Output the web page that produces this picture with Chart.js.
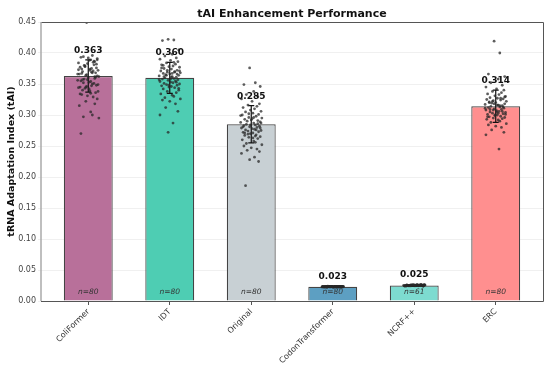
<!DOCTYPE html>
<html>
<head>
<meta charset="utf-8">
<script src="https://cdn.jsdelivr.net/npm/chart.js@4.4.0/dist/chart.umd.min.js"></script>
<style>
  html, body { margin: 0; padding: 0; background: #fff; }
  #wrap { width: 550px; height: 367px; }
</style>
</head>
<body>
<div id="wrap"><canvas id="chart" width="550" height="367"></canvas></div>
<script>
// categories and summary values
const methods = ['ColiFormer', 'IDT', 'Original', 'CodonTransformer', 'NCRF++', 'ERC'];
const means = [0.363, 0.360, 0.285, 0.023, 0.025, 0.314];
const stdDevs = [0.026, 0.025, 0.030, 0.001, 0.0015, 0.026];
const counts = [80, 80, 80, 80, 61, 80];
const barColors = ['#b8709a', '#4ecdb3', '#c8d0d4', '#5d9fc2', '#7ddbd0', '#ff8f8f'];
const yTicks = [0, 0.05, 0.10, 0.15, 0.20, 0.25, 0.30, 0.35, 0.40, 0.45];

// individual samples
const coliPts = [0.449, 0.396, 0.393, 0.391, 0.389, 0.394, 0.386, 0.384, 0.388, 0.382, 0.379, 0.381, 0.377, 0.375, 0.383, 0.372,
  0.370, 0.374, 0.368, 0.366, 0.371, 0.364, 0.362, 0.367, 0.360, 0.358, 0.363, 0.356, 0.354, 0.359, 0.352, 0.350, 0.355, 0.348,
  0.346, 0.351, 0.344, 0.342, 0.347, 0.340, 0.338, 0.343, 0.336, 0.334, 0.339, 0.331, 0.329, 0.333, 0.326, 0.322, 0.318, 0.315,
  0.305, 0.300, 0.297, 0.295, 0.270, 0.392, 0.387, 0.380, 0.376, 0.373, 0.369, 0.365, 0.361, 0.357, 0.353, 0.349, 0.345, 0.385,
  0.378, 0.372, 0.366, 0.362, 0.357, 0.389, 0.374, 0.368, 0.345, 0.335];
const idtPts = [0.422, 0.421, 0.420, 0.405, 0.398, 0.395, 0.392, 0.390, 0.388, 0.386, 0.384, 0.382, 0.381, 0.379, 0.378, 0.377,
  0.375, 0.374, 0.372, 0.371, 0.370, 0.369, 0.368, 0.367, 0.366, 0.365, 0.364, 0.363, 0.362, 0.361, 0.360, 0.359, 0.358, 0.357,
  0.356, 0.355, 0.354, 0.353, 0.352, 0.351, 0.350, 0.349, 0.348, 0.347, 0.346, 0.345, 0.344, 0.342, 0.340, 0.338, 0.336, 0.334,
  0.332, 0.330, 0.328, 0.326, 0.324, 0.322, 0.318, 0.312, 0.306, 0.300, 0.287, 0.272, 0.366, 0.362, 0.358, 0.371, 0.376, 0.369,
  0.364, 0.361, 0.357, 0.353, 0.348, 0.343, 0.380, 0.385, 0.372, 0.367];
const origPts = [0.376, 0.352, 0.349, 0.346, 0.338, 0.333, 0.330, 0.326, 0.322, 0.318, 0.316, 0.314, 0.312, 0.310, 0.308, 0.306,
  0.305, 0.303, 0.301, 0.300, 0.298, 0.296, 0.295, 0.293, 0.292, 0.290, 0.289, 0.288, 0.287, 0.286, 0.285, 0.284, 0.283, 0.282,
  0.281, 0.280, 0.279, 0.278, 0.277, 0.276, 0.275, 0.274, 0.273, 0.272, 0.271, 0.270, 0.268, 0.267, 0.265, 0.264, 0.262, 0.260,
  0.258, 0.256, 0.254, 0.252, 0.250, 0.247, 0.245, 0.243, 0.241, 0.238, 0.232, 0.228, 0.225, 0.186, 0.294, 0.287, 0.281, 0.276,
  0.269, 0.263, 0.299, 0.291, 0.284, 0.279, 0.271, 0.266, 0.302, 0.296];
const ctPts = [0.0232, 0.0228, 0.0235, 0.0226, 0.0230, 0.0238, 0.0224, 0.0231, 0.0229, 0.0236, 0.0227, 0.0233, 0.0225, 0.0230,
  0.0234, 0.0228, 0.0221, 0.0232, 0.0237, 0.0229, 0.0226, 0.0231, 0.0235, 0.0230, 0.0227, 0.0233, 0.0228, 0.0224, 0.0231, 0.0236,
  0.0229, 0.0232, 0.0225, 0.0230, 0.0234, 0.0228, 0.0231, 0.0227, 0.0233, 0.0229, 0.0230, 0.0235, 0.0226, 0.0232, 0.0228, 0.0231,
  0.0229, 0.0234, 0.0227, 0.0230, 0.0233, 0.0225, 0.0231, 0.0228, 0.0236, 0.0229, 0.0232, 0.0226, 0.0230, 0.0234, 0.0228, 0.0231,
  0.0227, 0.0233, 0.0229, 0.0230, 0.0224, 0.0232, 0.0235, 0.0228, 0.0231, 0.0226, 0.0233, 0.0229, 0.0230, 0.0237, 0.0227, 0.0232,
  0.0229, 0.0231];
const ncrfPts = [0.0262, 0.0248, 0.0255, 0.0241, 0.0258, 0.0250, 0.0265, 0.0244, 0.0253, 0.0247, 0.0260, 0.0251, 0.0239, 0.0256,
  0.0249, 0.0263, 0.0245, 0.0252, 0.0258, 0.0243, 0.0254, 0.0248, 0.0261, 0.0250, 0.0246, 0.0257, 0.0242, 0.0253, 0.0249, 0.0264,
  0.0251, 0.0245, 0.0259, 0.0247, 0.0252, 0.0255, 0.0240, 0.0250, 0.0262, 0.0248, 0.0254, 0.0244, 0.0257, 0.0251, 0.0246, 0.0260,
  0.0249, 0.0253, 0.0243, 0.0256, 0.0250, 0.0247, 0.0259, 0.0252, 0.0245, 0.0255, 0.0248, 0.0261, 0.0251, 0.0244, 0.0254];
const ercPts = [0.419, 0.400, 0.366, 0.362, 0.358, 0.352, 0.348, 0.345, 0.342, 0.340, 0.338, 0.336, 0.334, 0.333, 0.331, 0.330,
  0.328, 0.327, 0.326, 0.325, 0.324, 0.323, 0.322, 0.321, 0.320, 0.319, 0.318, 0.317, 0.316, 0.315, 0.314, 0.313, 0.312, 0.311,
  0.310, 0.309, 0.308, 0.307, 0.306, 0.305, 0.304, 0.303, 0.302, 0.301, 0.300, 0.299, 0.298, 0.297, 0.296, 0.295, 0.294, 0.293,
  0.292, 0.290, 0.288, 0.286, 0.284, 0.282, 0.280, 0.276, 0.272, 0.268, 0.245, 0.318, 0.313, 0.309, 0.305, 0.301, 0.297, 0.327,
  0.322, 0.316, 0.311, 0.306, 0.300, 0.329, 0.320, 0.315, 0.308, 0.303];
const samples = [coliPts, idtPts, origPts, ctPts, ncrfPts, ercPts];

// horizontal jitter offsets for the strip points (in category units)
const jitter = [-0.02, 0.05, -0.09, 0.11, 0.03, -0.06, 0.08, -0.12, 0.01, 0.10, -0.04, 0.07, -0.10, 0.04, -0.01, 0.12,
  -0.07, 0.02, 0.09, -0.11, 0.06, -0.03, 0.13, -0.08, 0.00, -0.05, 0.11, -0.13, 0.03, 0.08, -0.06, 0.05, -0.09, 0.10,
  -0.02, 0.07, -0.12, 0.01, 0.04, -0.07, 0.12, -0.04, 0.09, -0.10, 0.02, -0.01, 0.06, -0.08, 0.11, -0.03, 0.08, -0.11,
  0.03, 0.05, -0.06, 0.13, -0.09, 0.00, 0.07, -0.05, 0.10, -0.12, 0.04, -0.02, 0.09, -0.07, 0.01, 0.12, -0.10, 0.06,
  -0.04, 0.02, -0.13, 0.08, -0.01, 0.11, -0.08, 0.05, -0.03, 0.03];

const FONT = "'DejaVu Sans', sans-serif";

const barData = means.map((m, i) => ({ x: i, y: m }));
const pointData = [];
samples.forEach((arr, i) => {
    arr.forEach((v, k) => pointData.push({ x: i + jitter[k % jitter.length], y: v }));
});

// error bars, value labels, n= labels, frame and title
const decorPlugin = {
    id: 'decor',
    afterDatasetDraw(chart, args) {
        if (args.index !== 0) return;
        const ctx = chart.ctx, xs = chart.scales.x, ys = chart.scales.y;
        ctx.save();
        ctx.strokeStyle = '#111';
        ctx.lineWidth = 1.2;
        means.forEach((m, i) => {
            const cx = xs.getPixelForValue(i);
            const t = ys.getPixelForValue(m + stdDevs[i]);
            const b = ys.getPixelForValue(m - stdDevs[i]);
            ctx.beginPath();
            ctx.moveTo(cx, t); ctx.lineTo(cx, b);
            ctx.moveTo(cx - 3, t); ctx.lineTo(cx + 3, t);
            ctx.moveTo(cx - 3, b); ctx.lineTo(cx + 3, b);
            ctx.stroke();
        });
        ctx.restore();
    },
    afterDraw(chart) {
        const ctx = chart.ctx, xs = chart.scales.x, ys = chart.scales.y;
        const area = chart.chartArea;
        ctx.save();
        // value labels
        ctx.fillStyle = '#111';
        ctx.font = 'bold 9px ' + FONT;
        ctx.textAlign = 'center';
        ctx.textBaseline = 'bottom';
        means.forEach((m, i) => {
            ctx.fillText(m.toFixed(3), xs.getPixelForValue(i), ys.getPixelForValue(m + stdDevs[i] + 0.008));
        });
        // n labels
        ctx.fillStyle = '#333';
        ctx.font = 'italic 7.5px ' + FONT;
        ctx.textBaseline = 'middle';
        counts.forEach((n, i) => {
            ctx.fillText('n=' + n, xs.getPixelForValue(i), ys.getPixelForValue(0.015));
        });
        // frame
        ctx.lineWidth = 1;
        ctx.strokeStyle = '#555';
        ctx.beginPath();
        ctx.moveTo(area.left, area.top + 0.5); ctx.lineTo(area.right + 0.5, area.top + 0.5);
        ctx.lineTo(area.right + 0.5, area.bottom + 0.5); ctx.lineTo(area.left, area.bottom + 0.5);
        ctx.stroke();
        ctx.strokeStyle = '#aaa';
        ctx.lineWidth = 1.5;
        ctx.beginPath();
        ctx.moveTo(area.left, area.top); ctx.lineTo(area.left, area.bottom);
        ctx.stroke();
        // title
        ctx.fillStyle = '#111';
        ctx.font = 'bold 11px ' + FONT;
        ctx.textBaseline = 'middle';
        ctx.fillText('tAI Enhancement Performance', (area.left + area.right) / 2, 14);
        ctx.restore();
    }
};

const ctx = document.getElementById('chart').getContext('2d');
new Chart(ctx, {
    data: {
        datasets: [{
            type: 'bar',
            data: barData,
            backgroundColor: barColors,
            borderColor: '#444',
            borderWidth: 1.2,
            barPercentage: 0.6,
            categoryPercentage: 1.0,
            order: 2
        }, {
            type: 'scatter',
            data: pointData,
            backgroundColor: 'rgba(40,40,40,0.75)',
            borderWidth: 0,
            pointRadius: 1.4,
            order: 1
        }]
    },
    options: {
        responsive: false,
        animation: false,
        layout: { padding: { left: 0, top: 22, right: 7, bottom: 0 } },
        plugins: {
            legend: { display: false },
            tooltip: { enabled: false },
            title: { display: false }
        },
        scales: {
            x: {
                type: 'linear',
                offset: false,
                min: -0.58,
                max: 5.58,
                afterBuildTicks: (scale) => { scale.ticks = methods.map((m, i) => ({ value: i })); },
                afterFit: (scale) => { scale.height = 66; },
                grid: { offset: false, drawOnChartArea: false, drawTicks: true, tickLength: 4, color: '#555' },
                border: { display: false },
                ticks: {
                    autoSkip: false,
                    maxRotation: 45,
                    minRotation: 45,
                    padding: 2,
                    color: '#333',
                    font: { family: FONT, size: 8 },
                    callback: (v) => methods[Math.round(v)] || ''
                }
            },
            y: {
                min: 0,
                max: 0.45,
                afterBuildTicks: (scale) => { scale.ticks = yTicks.map(v => ({ value: v })); },
                afterFit: (scale) => { scale.width = 41; },
                grid: { color: '#ececec', tickLength: 3, lineWidth: 0.8 },
                border: { display: false },
                ticks: {
                    padding: 2,
                    color: '#444',
                    font: { family: FONT, size: 8 },
                    callback: (v) => Number(v).toFixed(2)
                },
                title: {
                    display: true,
                    text: 'tRNA Adaptation Index (tAI)',
                    color: '#111',
                    padding: { top: 6, bottom: 2 },
                    font: { family: FONT, size: 9.5, weight: 'bold' }
                }
            }
        }
    },
    plugins: [decorPlugin]
});
</script>
</body>
</html>
